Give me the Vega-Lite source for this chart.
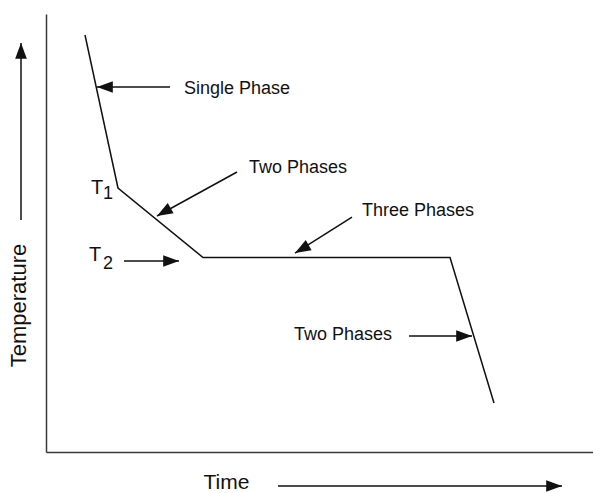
{
  "$schema": "https://vega.github.io/schema/vega-lite/v6.json",
  "width": 547,
  "height": 438,
  "autosize": {"type": "none"},
  "padding": {"left": 46, "top": 14, "right": 0, "bottom": 41},
  "background": "white",
  "config": {"view": {"stroke": null}, "font": "Liberation Sans"},
  "datasets": {
    "curve": [
      {"time": 7.13, "temp": 95.21},
      {"time": 13.16, "temp": 60.27},
      {"time": 28.7, "temp": 44.41},
      {"time": 73.86, "temp": 44.41},
      {"time": 81.9, "temp": 11.19}
    ],
    "arrows": [
      {"label": "Single Phase", "time": 22.67, "temp": 83.33, "time2": 9.32, "temp2": 83.33, "dir": "left"},
      {"label": "Two Phases (upper)", "time": 34.92, "temp": 63.93, "time2": 20.29, "temp2": 53.88, "dir": "down-left"},
      {"label": "Three Phases", "time": 55.94, "temp": 53.65, "time2": 45.52, "temp2": 45.43, "dir": "down-left"},
      {"label": "T2", "time": 14.26, "temp": 43.61, "time2": 24.31, "temp2": 43.61, "dir": "right"},
      {"label": "Two Phases (lower)", "time": 66.36, "temp": 26.48, "time2": 77.88, "temp2": 26.48, "dir": "right"},
      {"label": "Time", "time": 42.41, "temp": -7.76, "time2": 94.33, "temp2": -7.76, "dir": "right"},
      {"label": "Temperature", "time": -4.57, "temp": 52.97, "time2": -4.57, "temp2": 93.38, "dir": "up"}
    ],
    "labels": [
      {"text": "Single Phase", "time": 25.23, "temp": 82.99},
      {"text": "Two Phases", "time": 37.11, "temp": 64.73},
      {"text": "Three Phases", "time": 57.77, "temp": 55.02},
      {"text": "Two Phases", "time": 45.34, "temp": 26.71}
    ],
    "tlabels": [
      {"text": "T", "time": 8.23, "temp": 60.27},
      {"text": "T", "time": 7.86, "temp": 44.98}
    ],
    "subs": [
      {"text": "1", "time": 10.42, "temp": 58.79},
      {"text": "2", "time": 10.42, "temp": 42.81}
    ]
  },
  "encoding": {
    "x": {
      "field": "time",
      "type": "quantitative",
      "scale": {"domain": [0, 100], "nice": false, "zero": false},
      "axis": {
        "title": "Time",
        "domain": true,
        "domainColor": "#3a3a3a",
        "domainWidth": 1.5,
        "ticks": false,
        "labels": false,
        "grid": false,
        "titleFontSize": 21,
        "titleFontWeight": "normal",
        "titleColor": "#111111",
        "titleX": 157,
        "titleY": 30,
        "titleAlign": "left",
        "titleBaseline": "middle"
      }
    },
    "y": {
      "field": "temp",
      "type": "quantitative",
      "scale": {"domain": [0, 100], "nice": false, "zero": false},
      "axis": {
        "title": "Temperature",
        "domain": true,
        "domainColor": "#3a3a3a",
        "domainWidth": 1.5,
        "ticks": false,
        "labels": false,
        "grid": false,
        "titleFontSize": 22,
        "titleFontWeight": "normal",
        "titleColor": "#111111",
        "titleAngle": 270,
        "titleX": -28,
        "titleY": 291,
        "titleAlign": "center",
        "titleBaseline": "middle"
      }
    }
  },
  "layer": [
    {
      "data": {"name": "curve"},
      "mark": {"type": "line", "color": "#111111", "strokeWidth": 1.5}
    },
    {
      "data": {"name": "arrows"},
      "mark": {"type": "rule", "color": "#111111", "strokeWidth": 1.5},
      "encoding": {
        "x2": {"field": "time2"},
        "y2": {"field": "temp2"}
      }
    },
    {
      "data": {"name": "arrows"},
      "transform": [{"filter": {"field": "dir", "equal": "right"}}],
      "mark": {"type": "point", "shape": "M 0 0 L -1 -0.37 L -1 0.37 Z", "size": 1000, "angle": 0, "filled": true, "color": "#111111", "opacity": 1, "strokeWidth": 0},
      "encoding": {
        "x": {"field": "time2", "type": "quantitative"},
        "y": {"field": "temp2", "type": "quantitative"}
      }
    },
    {
      "data": {"name": "arrows"},
      "transform": [{"filter": {"field": "dir", "equal": "left"}}],
      "mark": {"type": "point", "shape": "M 0 0 L -1 -0.37 L -1 0.37 Z", "size": 1000, "angle": 180, "filled": true, "color": "#111111", "opacity": 1, "strokeWidth": 0},
      "encoding": {
        "x": {"field": "time2", "type": "quantitative"},
        "y": {"field": "temp2", "type": "quantitative"}
      }
    },
    {
      "data": {"name": "arrows"},
      "transform": [{"filter": {"field": "dir", "equal": "up"}}],
      "mark": {"type": "point", "shape": "M 0 0 L -1 -0.37 L -1 0.37 Z", "size": 1000, "angle": 270, "filled": true, "color": "#111111", "opacity": 1, "strokeWidth": 0},
      "encoding": {
        "x": {"field": "time2", "type": "quantitative"},
        "y": {"field": "temp2", "type": "quantitative"}
      }
    },
    {
      "data": {"name": "arrows"},
      "transform": [{"filter": {"field": "dir", "equal": "down-left"}}],
      "mark": {"type": "point", "shape": "M 0 0 L -1 -0.37 L -1 0.37 Z", "size": 1000, "angle": 150, "filled": true, "color": "#111111", "opacity": 1, "strokeWidth": 0},
      "encoding": {
        "x": {"field": "time2", "type": "quantitative"},
        "y": {"field": "temp2", "type": "quantitative"}
      }
    },
    {
      "data": {"name": "labels"},
      "mark": {"type": "text", "align": "left", "baseline": "middle", "fontSize": 18, "color": "#111111"},
      "encoding": {"text": {"field": "text"}}
    },
    {
      "data": {"name": "tlabels"},
      "mark": {"type": "text", "align": "left", "baseline": "middle", "fontSize": 20, "color": "#111111"},
      "encoding": {"text": {"field": "text"}}
    },
    {
      "data": {"name": "subs"},
      "mark": {"type": "text", "align": "left", "baseline": "middle", "fontSize": 18, "color": "#111111"},
      "encoding": {"text": {"field": "text"}}
    }
  ]
}
